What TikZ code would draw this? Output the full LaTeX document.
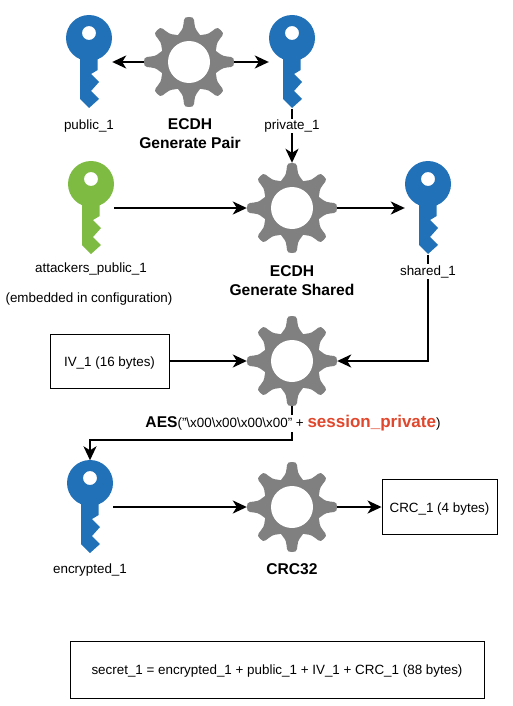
\documentclass[tikz,border=0pt]{standalone}
\usepackage{fontspec}
\setmainfont{Liberation Sans}
\usetikzlibrary{arrows.meta}
\definecolor{keyblue}{HTML}{2171B9}
\definecolor{keygreen}{HTML}{7DBB42}
\definecolor{geargray}{HTML}{808080}
\definecolor{sessred}{HTML}{E0482E}
\tikzset{
  x=1pt,y=-1pt,
  conn/.style={draw=black,line width=1.9pt,-{Stealth[length=14pt,width=13pt,inset=4pt]}},
  slot/.style={inner sep=0pt,minimum width=46pt,minimum height=93pt},
  gearslot/.style={circle,inner sep=0pt,minimum size=90pt},
  lbl/.style={font=\fontsize{13.4}{15}\selectfont,align=center,inner sep=1pt},
  captext/.style={font=\fontsize{15.6}{19}\selectfont\bfseries,align=center,inner sep=1pt},
  boxed/.style={draw=black,line width=0.9pt,font=\fontsize{13.4}{15}\selectfont,inner sep=0pt,text height=11pt,text depth=0.4pt},
  pics/keyicon/.style={code={
    \fill[#1,even odd rule]
      (0,-24) circle[radius=23pt]
      (0,-29) circle[radius=7pt];
    \fill[#1] (-9,-10) -- (-9,37) -- (0,46) -- (10,37) -- (2,29) -- (10,20) -- (2,12) -- (8.7,8) -- (8.7,-10) -- cycle;
  }},
  pics/gearicon/.style={code={
    \foreach \a in {0,45,...,315}{
      \fill[geargray,rotate=\a]
        (20,0) -- (26.8,-11.1) .. controls (31,-8.5) and (32,-6) .. (38,-5.5) -- (42,-5)
        .. controls (44.5,-4.8) and (45,-3) .. (45,0)
        .. controls (45,3) and (44.5,4.8) .. (42,5) -- (38,5.5)
        .. controls (32,6) and (31,8.5) .. (26.8,11.1) -- cycle;
    }
    \fill[geargray] (0,0) circle[radius=29pt];
    \fill[white] (0,0) circle[radius=21pt];
  }}
}
\begin{document}
\begin{tikzpicture}
\useasboundingbox (0,0) rectangle (512,706);
% icons
\pic at (89,62) {keyicon=keyblue};
\pic at (292,62) {keyicon=keyblue};
\pic at (91,208) {keyicon=keygreen};
\pic at (428,208) {keyicon=keyblue};
\pic at (90,507) {keyicon=keyblue};
\pic at (189,62) {gearicon};
\pic at (292,208) {gearicon};
\pic at (292,361) {gearicon};
\pic at (292,507) {gearicon};
% anchors
\node[slot] (kpub) at (89,62) {};
\node[slot] (kpriv) at (292,62) {};
\node[slot] (katt) at (91,208) {};
\node[slot] (kshared) at (428,208) {};
\node[slot] (kenc) at (90,507) {};
\node[gearslot] (gpair) at (189,62) {};
\node[gearslot] (gshared) at (292,208) {};
\node[gearslot] (gaes) at (292,361) {};
\node[gearslot] (gcrc) at (292,507) {};
\node[boxed,minimum width=119pt,minimum height=54pt] (iv) at (109.5,361) {IV\_1 (16 bytes)};
\node[boxed,minimum width=115pt,minimum height=55pt] (crc) at (439.5,507) {CRC\_1 (4 bytes)};
\node[boxed,minimum width=414pt,minimum height=57pt] (secret) at (277,669.5) {secret\_1 = encrypted\_1 + public\_1 + IV\_1 + CRC\_1 (88 bytes)};
\coordinate (bendenc) at (90,440);
\coordinate (bendaes) at (292,440);
\coordinate (bendshared) at (428,361);
% connectors
\draw[conn] (gpair.west) -- (kpub.east);
\draw[conn] (gpair.east) -- (kpriv.west);
\draw[conn] (kpriv.south) -- (gshared.north);
\draw[conn] (katt.east) -- (gshared.west);
\draw[conn] (gshared.east) -- (kshared.west);
\draw[conn] (kshared.south) -- (bendshared) -- (gaes.east);
\draw[conn] (iv.east) -- (gaes.west);
\draw[conn] (gaes.south) -- (bendaes) -- (bendenc) -- (kenc.north);
\draw[conn] (kenc.east) -- (gcrc.west);
\draw[conn] (gcrc.east) -- (crc.west);
% labels
\node[lbl] (lpub) at (89,126) {public\_1};
\node[lbl,fill=white] (lpriv) at (292,126) {private\_1};
\node[captext] (cpair) at (190,134) {ECDH\\Generate Pair};
\node[lbl] (latt) at (91,269.5) {attackers\_public\_1};
\node[lbl] (lemb) at (89,299) {(embedded in configuration)};
\node[lbl,fill=white] (lshared) at (428,271.5) {shared\_1};
\node[captext] (cshared) at (292,280.5) {ECDH\\Generate Shared};
\node[lbl,fill=white] (laes) at (293,423.5) {\fontsize{15.6}{19}\selectfont\bfseries AES\fontsize{13.4}{15}\mdseries\selectfont("\textbackslash x00\textbackslash x00\textbackslash x00\textbackslash x00" + \fontsize{17}{19}\bfseries\selectfont\textcolor{sessred}{session\_private}\fontsize{13.4}{15}\mdseries\selectfont)};
\node[lbl] (lenc) at (90,570.5) {encrypted\_1};
\node[captext] (ccrc) at (292,569) {CRC32};
\end{tikzpicture}
\end{document}
